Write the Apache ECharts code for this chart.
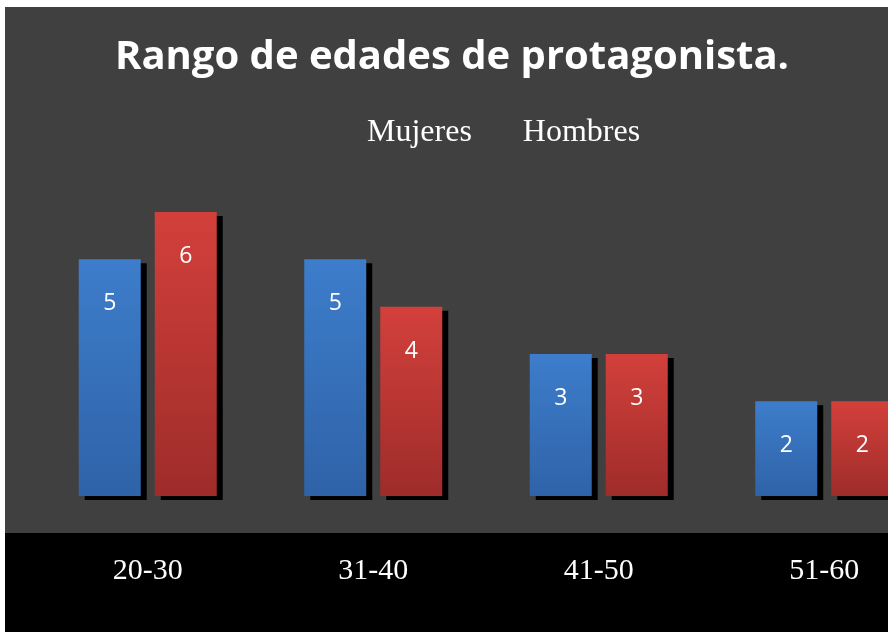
<!DOCTYPE html>
<html><head><meta charset="utf-8">
<script src="https://cdn.jsdelivr.net/npm/echarts@6/dist/echarts.min.js"></script>
<style>html,body{margin:0;padding:0;background:#fff;overflow:hidden}#c{width:940px;height:632px}</style>
</head><body><div id="c"></div>
<script>
const titleText = 'Rango de edades de protagonista.';
const categories = ['20-30', '31-40', '41-50', '51-60'];
const seriesNames = ['Mujeres', 'Hombres'];
const mujeres = [5, 5, 3, 2];
const hombres = [6, 4, 3, 2];

const chart = echarts.init(document.getElementById('c'));
function grad(top, bottom) {
  return new echarts.graphic.LinearGradient(0, 0, 0, 1, [{offset: 0, color: top}, {offset: 1, color: bottom}]);
}
const labelCfg = {show: true, position: 'insideTop', distance: 33, color: '#fff', fontFamily: 'Open Sans', fontSize: 23};
const shadow = {shadowColor: '#000', shadowBlur: 0, shadowOffsetX: 6, shadowOffsetY: 4};
chart.setOption({
  backgroundColor: '#fff',
  animation: false,
  title: {text: titleText, left: 447, textAlign: 'center', top: 33,
    textStyle: {color: '#fff', fontFamily: 'Open Sans', fontWeight: 'bold', fontSize: 40}},
  legend: {data: seriesNames, left: 357, top: 112, icon: 'rect', itemWidth: 0, itemHeight: 0, itemGap: 46,
    textStyle: {color: '#fff', fontFamily: 'Liberation Serif', fontSize: 32}},
  graphic: [
    {type: 'rect', z: -10, shape: {x: 5, y: 7, width: 935, height: 526}, style: {fill: '#404040'}},
    {type: 'rect', z: -10, shape: {x: 5, y: 533, width: 935, height: 99}, style: {fill: '#000'}}
  ],
  grid: {left: 35, top: 164.67, width: 902, height: 331.33},
  xAxis: {type: 'category', data: categories,
    axisLine: {show: false}, axisTick: {show: false},
    axisLabel: {color: '#fff', fontFamily: 'Liberation Serif', fontSize: 30, margin: 60}},
  yAxis: {type: 'value', min: 0, max: 7, show: false, splitLine: {show: false}},
  series: [
    {name: seriesNames[0], type: 'bar', data: mujeres, barWidth: 62, barGap: '22.6%',
      itemStyle: Object.assign({color: grad('#3d7dcb', '#2f63a8')}, shadow), label: labelCfg},
    {name: seriesNames[1], type: 'bar', data: hombres, barWidth: 62,
      itemStyle: Object.assign({color: grad('#d3403b', '#9e2c2a')}, shadow), label: labelCfg}
  ]
});
</script></body></html>
